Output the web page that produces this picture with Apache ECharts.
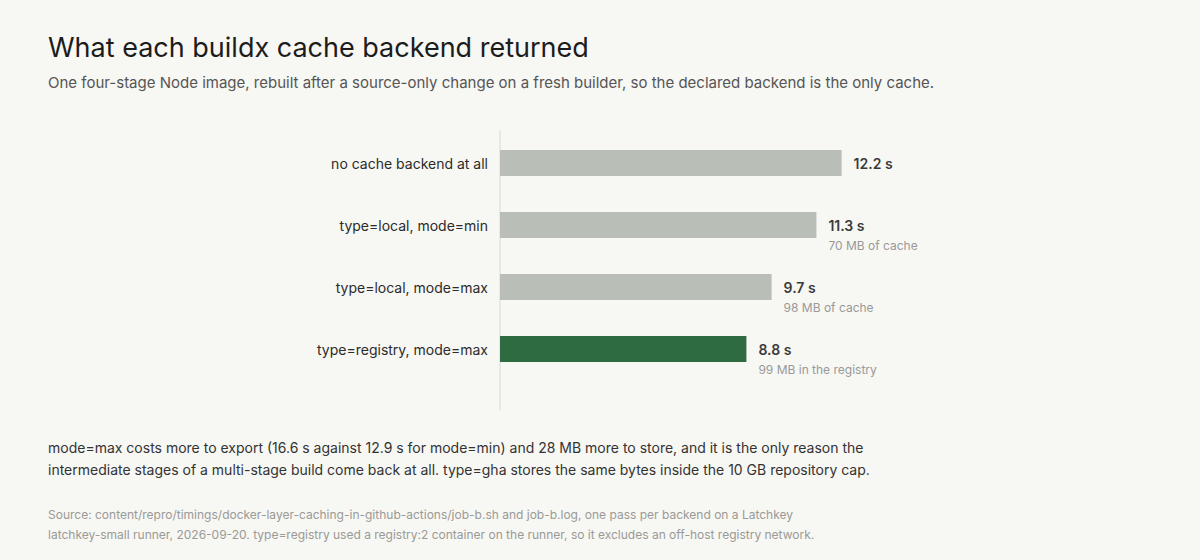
<!DOCTYPE html>
<html>
<head>
<meta charset="utf-8">
<script src="https://cdn.jsdelivr.net/npm/echarts@6/dist/echarts.min.js"></script>
<style>
  html, body { margin: 0; padding: 0; background: #f7f7f3; }
  #main { width: 1200px; height: 560px; }
</style>
</head>
<body>
<div id="main"></div>
<script>
const backends = [
  "no cache backend at all",
  "type=local, mode=min",
  "type=local, mode=max",
  "type=registry, mode=max",
];
const seconds = [12.2, 11.3, 9.7, 8.8];
const cacheNotes = ["", "70 MB of cache", "98 MB of cache", "99 MB in the registry"];
const highlight = [false, false, false, true];

const noteLines = [
  "mode=max costs more to export (16.6 s against 12.9 s for mode=min) and 28 MB more to store, and it is the only reason the",
  "intermediate stages of a multi-stage build come back at all. type=gha stores the same bytes inside the 10 GB repository cap.",
];
const sourceLines = [
  "Source: content/repro/timings/docker-layer-caching-in-github-actions/job-b.sh and job-b.log, one pass per backend on a Latchkey",
  "latchkey-small runner, 2026-09-20. type=registry used a registry:2 container on the runner, so it excludes an off-host registry network.",
];

const chart = echarts.init(document.getElementById("main"), null, { renderer: "svg" });

const font = "Inter, 'Noto Sans', sans-serif";

const option = {
  backgroundColor: "#f7f7f3",
  textStyle: { fontFamily: font },
  title: {
    text: "What each buildx cache backend returned",
    subtext: "One four-stage Node image, rebuilt after a source-only change on a fresh builder, so the declared backend is the only cache.",
    left: 48,
    top: 34,
    padding: 0,
    itemGap: 14,
    textStyle: { fontFamily: font, fontSize: 27, fontWeight: 400, color: "#1c1c1c" },
    subtextStyle: { fontFamily: font, fontSize: 15, color: "#555" },
  },
  grid: { left: 500, right: 308, top: 132, height: 248 },
  xAxis: {
    type: "value",
    min: 0,
    max: 14,
    show: false,
  },
  yAxis: {
    type: "category",
    data: backends,
    inverse: true,
    axisLine: { show: false },
    axisTick: { show: false },
    axisLabel: { margin: 12, fontSize: 14, color: "#2b2b2b", fontFamily: font },
  },
  graphic: [
    {
      type: "line",
      shape: { x1: 500, y1: 130, x2: 500, y2: 410 },
      style: { stroke: "#e4e4df", lineWidth: 1.5 },
      z: 0,
    },
    {
      type: "text",
      left: 48,
      top: 436,
      style: {
        text: noteLines.join("\n"),
        font: "14px " + font,
        fill: "#333",
        lineHeight: 22,
      },
    },
    {
      type: "text",
      left: 48,
      top: 504,
      style: {
        text: sourceLines.join("\n"),
        font: "12px " + font,
        fill: "#9a9a96",
        lineHeight: 20,
      },
    },
  ],
  series: [
    {
      type: "bar",
      barWidth: 26,
      z: 2,
      data: seconds.map((v, i) => ({
        value: v,
        itemStyle: { color: highlight[i] ? "#2e6b40" : "#b9beb6" },
        label: {
          offset: cacheNotes[i] ? [0, 10] : [0, 0],
        },
      })),
      label: {
        show: true,
        position: "right",
        distance: 12,
        formatter: (p) => {
          const note = cacheNotes[p.dataIndex];
          return "{v|" + p.value + " s}" + (note ? "\n{n|" + note + "}" : "");
        },
        rich: {
          v: { fontSize: 14, fontWeight: 600, color: "#3a3a3a", lineHeight: 20, fontFamily: font },
          n: { fontSize: 12, color: "#999", lineHeight: 20, fontFamily: font },
        },
      },
    },
  ],
};

chart.setOption(option);
</script>
</body>
</html>
